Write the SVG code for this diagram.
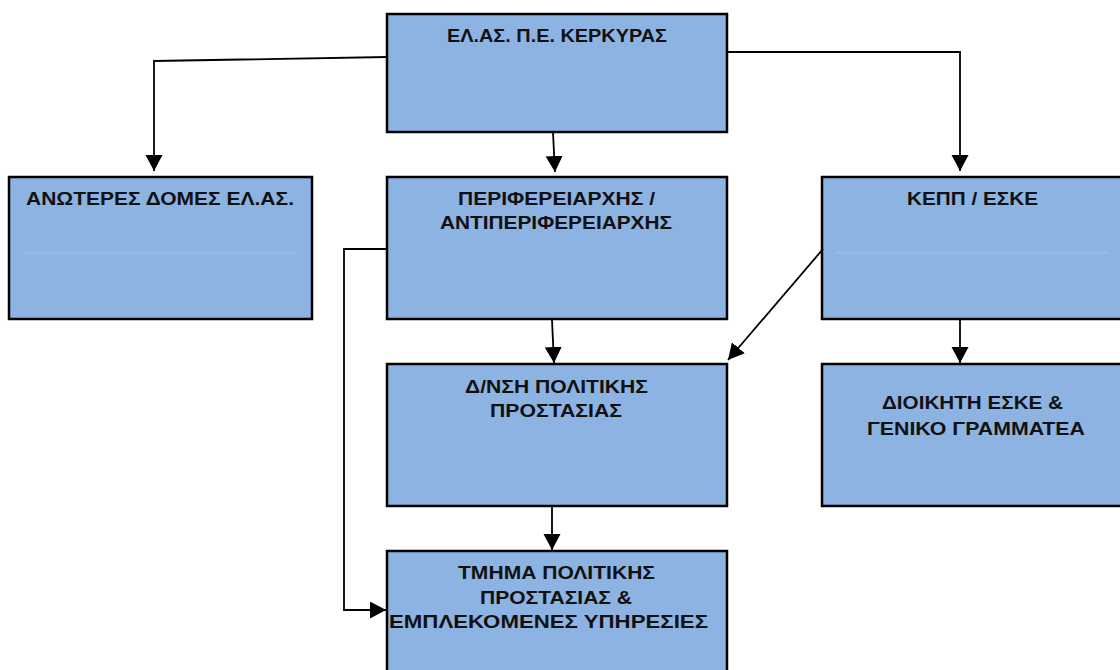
<svg xmlns="http://www.w3.org/2000/svg" width="1120" height="670" viewBox="0 0 1120 670">
<defs>
<marker id="arr" markerUnits="userSpaceOnUse" markerWidth="18" markerHeight="18" refX="16" refY="8.5" orient="auto">
<path d="M0,0 L16,8.5 L0,17 z" fill="#000"/>
</marker>
<style>
.box{fill:#8db3e2;stroke:#000;stroke-width:2.5}
.rule{stroke:#a3c1e8;stroke-width:1}
.lbl{font-family:"Liberation Sans",Arial,sans-serif;font-weight:bold;font-size:19px;fill:#111}
.con{fill:none;stroke:#000;stroke-width:1.8}
.arw{marker-end:url(#arr)}
</style>
</defs>
<rect width="1120" height="670" fill="#fff"/>
<g id="node-elas-kerkyras">
<rect class="box" x="387" y="14" width="340" height="118"/>
<text class="lbl" x="447" y="42" textLength="220" lengthAdjust="spacingAndGlyphs">ΕΛ.ΑΣ. Π.Ε. ΚΕΡΚΥΡΑΣ</text>
</g>
<g id="node-anoteres">
<rect class="box" x="9" y="177" width="303" height="142"/>
<line class="rule" x1="23" y1="253" x2="297" y2="253"/>
<text class="lbl" x="26" y="205" textLength="268" lengthAdjust="spacingAndGlyphs">ΑΝΩΤΕΡΕΣ ΔΟΜΕΣ ΕΛ.ΑΣ.</text>
</g>
<g id="node-perifereiarxis">
<rect class="box" x="387" y="177" width="340" height="142"/>
<text class="lbl" x="458" y="205" textLength="197" lengthAdjust="spacingAndGlyphs">ΠΕΡΙΦΕΡΕΙΑΡΧΗΣ /</text>
<text class="lbl" x="440" y="229" textLength="232" lengthAdjust="spacingAndGlyphs">ΑΝΤΙΠΕΡΙΦΕΡΕΙΑΡΧΗΣ</text>
</g>
<g id="node-kepp">
<rect class="box" x="822" y="177" width="310" height="142"/>
<line class="rule" x1="836" y1="253" x2="1108" y2="253"/>
<text class="lbl" x="907" y="205" textLength="131" lengthAdjust="spacingAndGlyphs">ΚΕΠΠ / ΕΣΚΕ</text>
</g>
<g id="node-dnsi">
<rect class="box" x="387" y="364" width="340" height="142"/>
<text class="lbl" x="465" y="393" textLength="183" lengthAdjust="spacingAndGlyphs">Δ/ΝΣΗ ΠΟΛΙΤΙΚΗΣ</text>
<text class="lbl" x="490" y="417" textLength="132" lengthAdjust="spacingAndGlyphs">ΠΡΟΣΤΑΣΙΑΣ</text>
</g>
<g id="node-dioikiti">
<rect class="box" x="822" y="364" width="310" height="142"/>
<text class="lbl" x="882" y="409" textLength="181" lengthAdjust="spacingAndGlyphs">ΔΙΟΙΚΗΤΗ ΕΣΚΕ &amp;</text>
<text class="lbl" x="867" y="435" textLength="218" lengthAdjust="spacingAndGlyphs">ΓΕΝΙΚΟ ΓΡΑΜΜΑΤΕΑ</text>
</g>
<g id="node-tmima">
<rect class="box" x="387" y="551" width="340" height="140"/>
<text class="lbl" x="458" y="579" textLength="197" lengthAdjust="spacingAndGlyphs">ΤΜΗΜΑ ΠΟΛΙΤΙΚΗΣ</text>
<text class="lbl" x="480" y="604" textLength="152" lengthAdjust="spacingAndGlyphs">ΠΡΟΣΤΑΣΙΑΣ &amp;</text>
<text class="lbl" x="389" y="628" textLength="319" lengthAdjust="spacingAndGlyphs">ΕΜΠΛΕΚΟΜΕΝΕΣ ΥΠΗΡΕΣΙΕΣ</text>
</g>
<g id="connectors">
<polyline class="con arw" points="387,57 154,61 154,171"/>
<polyline class="con arw" points="553,133 555,172"/>
<polyline class="con arw" points="727,52 960,52 960,171"/>
<polyline class="con arw" points="387,249 344,249 344,610 386,610"/>
<polyline class="con arw" points="552,320 554,363"/>
<polyline class="con arw" points="823,249 728,360"/>
<polyline class="con arw" points="960,320 960,363"/>
<polyline class="con arw" points="552,507 552,550"/>
</g>
</svg>
